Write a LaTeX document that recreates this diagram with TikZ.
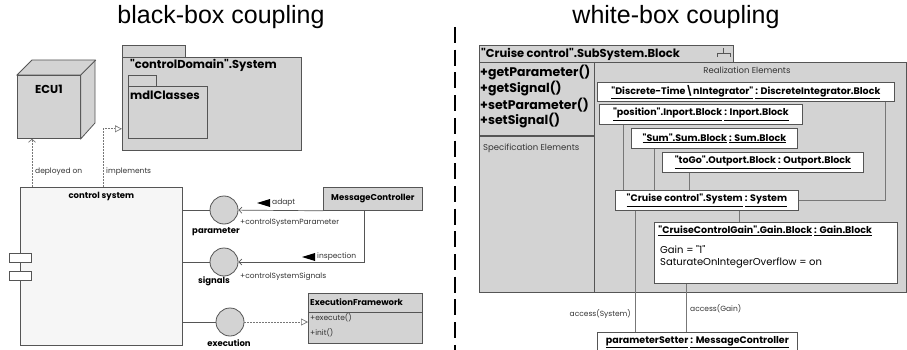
\documentclass[tikz,border=0pt]{standalone}
\usepackage{fontspec}
\usepackage{tikz}
\usetikzlibrary{arrows.meta}
\newfontfamily\gothic{Poppins}
\newfontfamily\heading{Liberation Sans}
\definecolor{lgray}{HTML}{D3D3D3}
\definecolor{pale}{HTML}{F6F6F6}
\definecolor{edge}{HTML}{555555}
\definecolor{wire}{HTML}{777777}

\begin{document}
\begin{tikzpicture}[x=1pt,y=-1pt,
    ttl/.style={font=\heading\fontsize{25}{30}\selectfont},
    gbox/.style={draw=edge,fill=lgray,line width=0.8pt,inner sep=0pt,anchor=north west},
    wbox/.style={draw=edge,fill=white,line width=0.8pt,inner sep=0pt,anchor=north west,minimum height=20pt,font=\gothic\bfseries\fontsize{9.5}{11}\selectfont},
    iface/.style={circle,draw=edge,fill=lgray,line width=0.8pt,minimum size=28pt,inner sep=0pt},
    port/.style={draw=edge,fill=white,line width=0.8pt,inner sep=0pt,anchor=north west,minimum width=22pt,minimum height=9pt},
    big/.style={font=\gothic\bfseries\fontsize{11.5}{13}\selectfont,inner sep=0pt},
    ops/.style={font=\gothic\bfseries\fontsize{12.5}{14}\selectfont,inner sep=0pt,anchor=west},
    bld/.style={font=\gothic\bfseries\fontsize{8.5}{10}\selectfont,inner sep=0pt},
    lbl/.style={font=\gothic\fontsize{7.5}{9}\selectfont,inner sep=0pt,text=black!80},
    caption/.style={font=\gothic\fontsize{8.5}{10}\selectfont,inner sep=0pt,text=black!80},
    attr/.style={font=\gothic\fontsize{10}{12}\selectfont,inner sep=0pt,anchor=west},
    rim/.style={draw=edge,line width=0.8pt},
    dep/.style={draw=wire,line width=0.7pt,dash pattern=on 2pt off 1pt,-{Straight Barb[length=3pt,width=7pt]}},
    real/.style={draw=wire,line width=0.7pt,dash pattern=on 2pt off 1pt,-{Triangle[open,length=7pt,width=7pt,fill=white]}},
    assoc/.style={draw=edge,line width=0.7pt,-{Straight Barb[length=3pt,width=6pt]}},
    link/.style={draw=wire,line width=0.9pt}]
    \useasboundingbox (0,0) rectangle (907,350);
    \node[ttl] (ttlB) at (221,17) {black-box coupling};
    \node[ttl] (ttlW) at (676,17) {white-box coupling};
    \draw[line width=2.5pt,dash pattern=on 16pt off 6.7pt] (455,27) -- (455,350);

    \node[gbox,minimum width=63pt,minimum height=63pt] (ecu) at (17,75) {};
    \path[rim,fill=lgray] (ecu.north west) -- ++(15,-15) -- ++(63,0) -- ++(0,63) -- (ecu.south east) -- (ecu.north east) -- cycle;
    \draw[rim] (ecu.north east) -- ++(15,-15);
    \node[big,anchor=north] (ecuL) at ([yshift=-10pt]ecu.north) {ECU1};

    \node[gbox,minimum width=63pt,minimum height=12pt] (pkgTab) at (122,45) {};
    \node[gbox,minimum width=179pt,minimum height=93pt] (pkg) at (122,57) {};
    \node[big,anchor=west] (pkgL) at (130,65.5) {"controlDomain".System};
    \node[gbox,minimum width=28pt,minimum height=11pt] (mdlTab) at (128,75) {};
    \node[gbox,minimum width=79pt,minimum height=52pt] (mdl) at (128,86) {};
    \node[big,anchor=west] (mdlL) at (130,95) {mdlClasses};

    \node[gbox,fill=pale,minimum width=162pt,minimum height=158pt] (comp) at (20,187) {};
    \node[bld,anchor=north] (compL) at ([yshift=-5pt]comp.north) {control system};
    \node[port] (portA) at (9,253) {};
    \node[port] (portB) at (9,271) {};

    \node[iface] (par) at (224,210) {};
    \node[iface] (sig) at (224,262) {};
    \node[iface] (exe) at (230,322) {};
    \draw[rim] (comp.east |- par) -- (par);
    \draw[rim] (comp.east |- sig) -- (sig);
    \draw[rim] (comp.east |- exe) -- (exe);
    \node[bld] (parL) at (216,232) {parameter};
    \node[bld] (sigL) at (214,281) {signals};
    \node[bld] (exeL) at (229,343) {execution};

    \node[gbox,bld,minimum width=99pt,minimum height=23pt] (mc) at (323,187) {MessageController};
    \draw[assoc] (mc.south west) -- (par);
    \draw[assoc] ([xshift=-8.5pt]mc.south) |- (sig);
    \node[lbl,anchor=west] (adpL) at (272,203) {adapt};
    \fill ([xshift=-2pt]adpL.west) -- ++(0,-4) -- ++(-13,4) -- ++(13,4) -- cycle;
    \node[lbl,anchor=west] (insL) at (317,257) {inspection};
    \fill ([xshift=-2pt]insL.west) -- ++(0,-4) -- ++(-13,4) -- ++(13,4) -- cycle;
    \node[lbl,anchor=west] (cspL) at (240,223) {+controlSystemParameter};
    \node[lbl,anchor=west] (cssL) at (240,277) {+controlSystemSignals};

    \node[gbox,minimum width=114pt,minimum height=50pt] (ef) at (308,293) {};
    \draw[rim] ([yshift=-19pt]ef.north west) -- ([yshift=-19pt]ef.north east);
    \node[bld,anchor=west] (efL) at (310,302) {ExecutionFramework};
    \node[lbl,anchor=west] (efA) at (310,318) {+execute()};
    \node[lbl,anchor=west] (efB) at (310,333) {+init()};
    \draw[real] (exe) -- (exe -| ef.west);

    \draw[dep] ([xshift=12pt]comp.north west) -- ([xshift=15pt]ecu.south west);
    \draw[real] ([xshift=83pt]comp.north west) |- ([yshift=22pt]pkg.south west);
    \node[lbl,anchor=west] (depL) at (35,172) {deployed on};
    \node[lbl,anchor=west] (impL) at (106,172) {implements};

    \node[gbox,minimum width=254pt,minimum height=17pt] (sub) at (479,45) {};
    \node[big,anchor=west] (subL) at (481,54) {"Cruise control".SubSystem.Block};
    \draw[rim] (723,48) -- (723,53) (717,57) -- (717,53) -- (730,53) -- (730,57);
    \node[gbox,line width=1.2pt,minimum width=427pt,minimum height=230pt] (body) at (479,62) {};
    \draw[rim] ([xshift=115pt]body.north west) -- ([xshift=115pt]body.south west);
    \draw[rim,line width=1.5pt] ([yshift=-74pt]body.north west) -- ++(115,0);
    \node[ops] (opA) at (480,73) {+getParameter()};
    \node[ops] (opB) at (480,89) {+getSignal()};
    \node[ops] (opC) at (480,105) {+setParameter()};
    \node[ops] (opD) at (480,121) {+setSignal()};
    \node[caption,anchor=west] (specL) at (483,148) {Specification Elements};
    \node[caption] (realL) at (747,70) {Realization Elements};

    \node[wbox,minimum width=297pt,minimum height=19pt] (dti) at (597,82) {\underline{"Discrete-Time\textbackslash nIntegrator"} \underline{: DiscreteIntegrator.Block}};
    \node[wbox,minimum width=203pt] (pos) at (599,104) {\underline{"position".Inport.Block} \underline{: Inport.Block}};
    \node[wbox,minimum width=166pt] (sum) at (631,128) {\underline{"Sum".Sum.Block} \underline{: Sum.Block}};
    \node[wbox,minimum width=201pt] (togo) at (662,152) {\underline{"toGo".Outport.Block} \underline{: Outport.Block}};
    \node[wbox,minimum width=183pt] (sys) at (615,190) {\underline{"Cruise control".System} \underline{: System}};
    \node[wbox,minimum width=243pt,minimum height=61pt] (gain) at (654,222) {};
    \node[wbox,draw=none,fill=none,minimum height=0pt,anchor=west] (gainL) at (658,231) {\underline{"CruiseControlGain".Gain.Block} \underline{: Gain.Block}};
    \node[attr] (gainA) at (660,250) {Gain = "1"};
    \node[attr] (gainB) at (660,263) {SaturateOnIntegerOverflow = on};
    \node[wbox,minimum width=200pt] (ps) at (597,332) {\underline{parameterSetter} \underline{: MessageController}};

    \coordinate (posX) at ([xshift=24pt]pos.south west);
    \coordinate (sumX) at ([xshift=23pt]sum.south west);
    \coordinate (togoX) at ([xshift=27pt]togo.south west);
    \coordinate (gainX) at ([xshift=85pt]gain.north west);
    \coordinate (sysX) at ([xshift=20pt]sys.south west);
    \coordinate (gainY) at ([xshift=32pt]gain.south west);
    \draw[link] ([xshift=-9pt]dti.south east) |- (sys.east);
    \draw[link] (posX) -- (posX |- sys.north);
    \draw[link] (sumX) -- (sumX |- sys.north);
    \draw[link] (togoX) -- (togoX |- sys.north);
    \draw[link] (gainX) -- (gainX |- sys.south);
    \draw[link] (sysX) -- (sysX |- ps.north);
    \draw[link] (gainY) -- (gainY |- ps.north);
    \node[lbl,anchor=east] (accS) at (631,314) {access(System)};
    \node[lbl,anchor=west] (accG) at (690,309) {access(Gain)};
\end{tikzpicture}
\end{document}
